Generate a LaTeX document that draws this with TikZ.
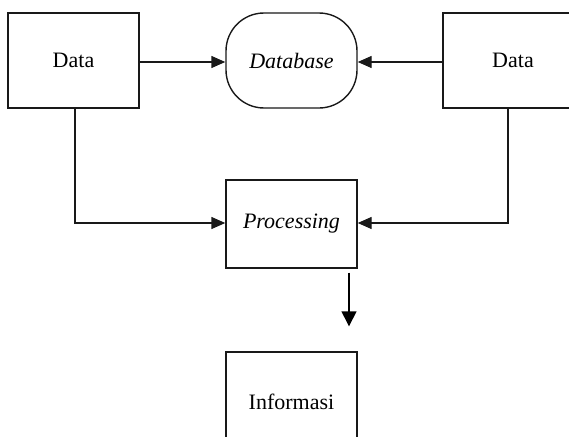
\documentclass[tikz,border=0pt]{standalone}
\usepackage{fontspec}
\setmainfont{Liberation Serif}
\usetikzlibrary{arrows.meta,calc}
\begin{document}
\begin{tikzpicture}[x=1pt,y=-1pt,
  box/.style={draw=black!90,line width=1.4pt,minimum width=131pt,minimum height=95pt,inner sep=0pt,font=\fontsize{22}{25}\selectfont},
  store/.style={box,rounded corners=38pt},
  flow/.style={draw=black!90,line width=1.4pt,-{Triangle[length=14pt,width=12pt]}},
  outflow/.style={draw=black,line width=1.4pt,-{Triangle[length=15pt,width=15pt]}}]
\useasboundingbox (0,0) rectangle (569,436);
\clip (0,0) rectangle (569,436);
% sources and store
\node[box] (dl) at (73.5,60.5) {Data};
\node[store] (db) at (291.5,60.5) {\textit{Database}};
\node[box,minimum width=140pt] (dr) at (513,60.5) {Data};
% processing and result
\node[box,minimum height=88pt] (proc) at (291.5,224) {\textit{Processing}};
\node[box,minimum height=100pt] (info) at (291.5,402) {Informasi};
% flows into the store
\draw[flow] (dl.east |- 0,62) -- (db.west |- 0,62);
\draw[flow] (dr.west |- 0,62) -- (db.east |- 0,62);
% flows into processing
\draw[flow] (dl.south -| 75,0) |- (proc.west |- 0,223);
\draw[flow] (dr.south -| 508,0) |- (proc.east |- 0,223);
% output
\draw[outflow,shorten <=4pt,shorten >=25pt] ([xshift=57.5pt]proc.south) -- ([xshift=57.5pt]info.north);
\end{tikzpicture}
\end{document}
